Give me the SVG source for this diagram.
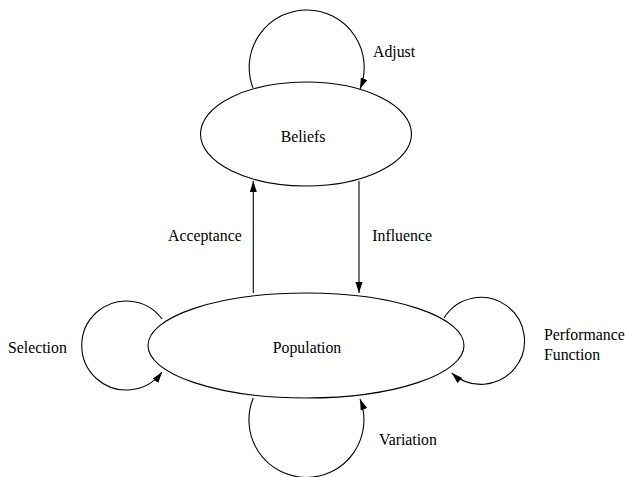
<svg xmlns="http://www.w3.org/2000/svg" width="625" height="477" viewBox="0 0 625 477">
<defs>
<marker id="ah" markerUnits="userSpaceOnUse" markerWidth="12" markerHeight="8" refX="11" refY="3.5" orient="auto">
<path d="M0,0 L11,3.5 L0,7 z" fill="#000"/>
</marker>
<style>
.node{fill:none;stroke:#000;stroke-width:1.1}
.edge{fill:none;stroke:#000;stroke-width:1.1;marker-end:url(#ah)}
.lbl{font-family:'Liberation Serif','Times New Roman',Times,serif;font-size:15.8px;fill:#000}
</style>
</defs>
<rect width="625" height="477" fill="#fff"/>
<g id="edges">
<path class="edge" d="M253,88 A57.5,57.5 0 1 1 360,89"/>
<path class="edge" d="M162,319 A44.5,44.5 0 1 0 162,372"/>
<path class="edge" d="M444,318 A43.5,43.5 0 1 1 451.7,373"/>
<path class="edge" d="M253.3,398 A57.5,57.5 0 1 0 360,399"/>
<path class="edge" d="M253.3,293 L253.3,181"/>
<path class="edge" d="M359,181 L359,293"/>
</g>
<g id="beliefs">
<ellipse class="node" cx="306" cy="134" rx="105.5" ry="52"/>
<text class="lbl" font-family="Liberation Serif, serif" x="303" y="141.5" text-anchor="middle">Beliefs</text>
</g>
<g id="population">
<ellipse class="node" cx="306" cy="345.5" rx="158" ry="52.5"/>
<text class="lbl" font-family="Liberation Serif, serif" x="307" y="353" text-anchor="middle">Population</text>
</g>
<g id="labels">
<text class="lbl" font-family="Liberation Serif, serif" x="373" y="56.7">Adjust</text>
<text class="lbl" font-family="Liberation Serif, serif" x="168" y="241">Acceptance</text>
<text class="lbl" font-family="Liberation Serif, serif" x="372.3" y="241">Influence</text>
<text class="lbl" font-family="Liberation Serif, serif" x="8" y="353">Selection</text>
<text class="lbl" font-family="Liberation Serif, serif" x="544" y="340">Performance</text>
<text class="lbl" font-family="Liberation Serif, serif" x="544" y="359.5">Function</text>
<text class="lbl" font-family="Liberation Serif, serif" x="379" y="445">Variation</text>
</g>
</svg>
